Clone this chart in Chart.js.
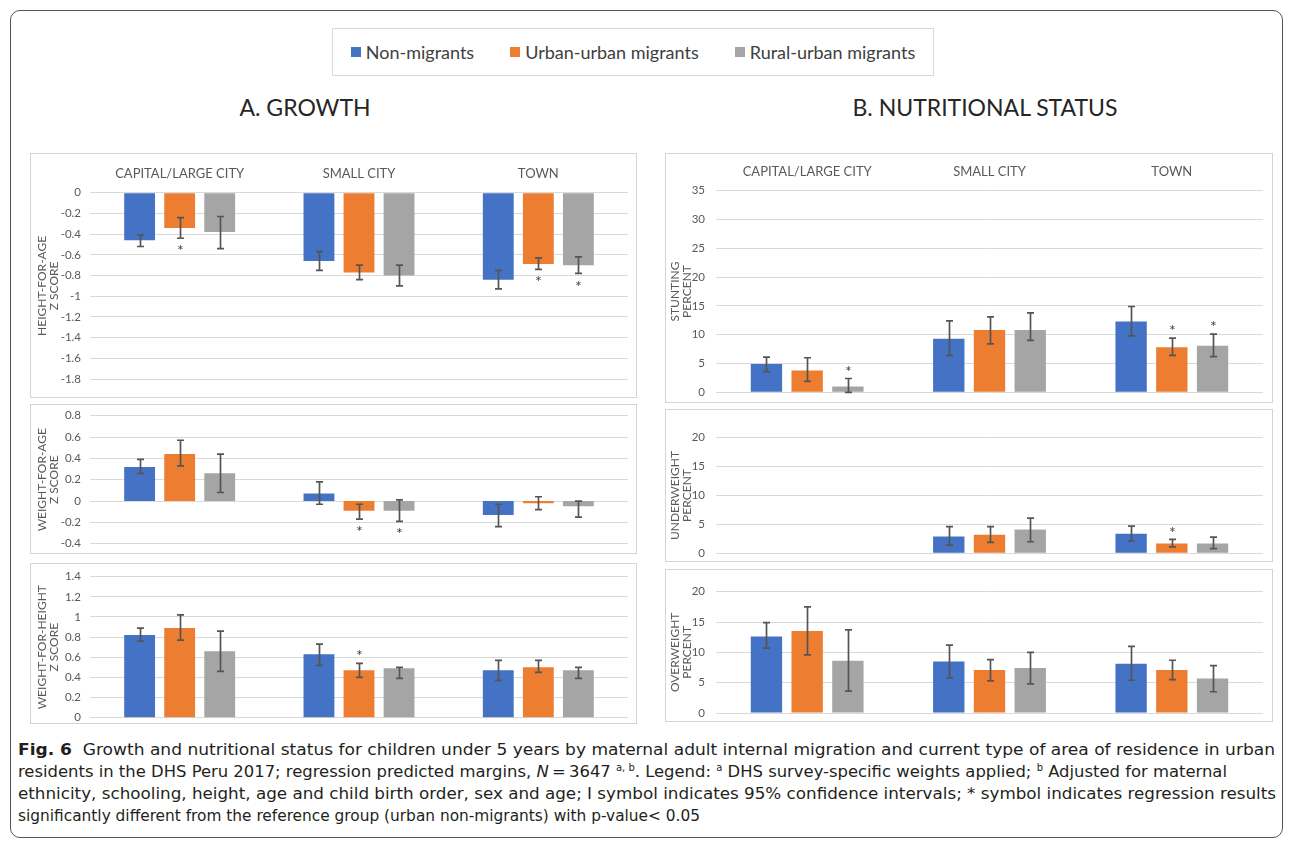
<!DOCTYPE html>
<html>
<head>
<meta charset="utf-8">
<script src="https://cdn.jsdelivr.net/npm/chart.js@4.4.1/dist/chart.umd.min.js"></script>
<style>
  html, body { margin: 0; padding: 0; background: #fff; }
  body { width: 1292px; height: 845px; position: relative; overflow: hidden; font-family: Lato, "Open Sans", sans-serif; color: #222; }
  #frame { position: absolute; left: 10px; top: 10px; width: 1273px; height: 828px; border: 1px solid #555; border-radius: 10px; box-sizing: border-box; }
  .box { position: absolute; border: 1px solid #d4d4d4; box-sizing: border-box; }
  canvas.panel { position: absolute; }
  #legend { position: absolute; left: 332px; top: 28px; width: 602px; height: 48px; border: 1px solid #d9d9d9; box-sizing: border-box; display: flex; align-items: center; justify-content: center; gap: 36px; font-size: 18px; color: #404040; }
  #legend .item { display: flex; align-items: center; }
  #legend .sw { width: 10px; height: 10px; margin-right: 5px; }
  .head { position: absolute; top: 93px; font-size: 23px; color: #262626; white-space: nowrap; transform: translateX(-50%); }
  #caption { position: absolute; left: 18px; top: 739px; font-family: "Liberation Sans Narrow", "DejaVu Sans Condensed", "Roboto Condensed", sans-serif; font-size: 16.5px; color: #231f20; }
  #caption .ln { white-space: nowrap; height: 22px; line-height: 22px; transform-origin: 0 50%; }
  #caption sup { font-size: 10px; vertical-align: 6px; line-height: 0; }
</style>
</head>
<body>
<div id="frame"></div>
<div id="legend"></div>
<div class="head" style="left:305px">A. GROWTH</div>
<div class="head" style="left:985px">B. NUTRITIONAL STATUS</div>
<div id="caption">
  <div class="ln" data-w="1257"><b>Fig. 6</b>&nbsp; Growth and nutritional status for children under 5 years by maternal adult internal migration and current type of area of residence in urban</div>
  <div class="ln" data-w="1209">residents in the DHS Peru 2017; regression predicted margins, <i>N</i>&#8201;=&#8201;3647 <sup>a, b</sup>. Legend: <sup>a</sup> DHS survey-specific weights applied; <sup>b</sup> Adjusted for maternal</div>
  <div class="ln" data-w="1258">ethnicity, schooling, height, age and child birth order, sex and age; I symbol indicates 95% confidence intervals; * symbol indicates regression results</div>
  <div class="ln" data-w="682">significantly different from the reference group (urban non-migrants) with p-value&lt; 0.05</div>
</div>
<script>
// Categories and series
const categories = ['CAPITAL/LARGE CITY', 'SMALL CITY', 'TOWN'];
const seriesNames = ['Non-migrants', 'Urban-urban migrants', 'Rural-urban migrants'];
const seriesColors = ['#4472C4', '#ED7D31', '#A5A5A5'];

// Each array below is [series][category]: predicted margin, 95% CI lower, 95% CI upper, significance flag
// A. Height-for-age z score
const hfaMean = [[-0.46, -0.66, -0.84], [-0.34, -0.77, -0.69], [-0.38, -0.80, -0.70]];
const hfaLow  = [[-0.52, -0.75, -0.93], [-0.44, -0.84, -0.74], [-0.54, -0.90, -0.78]];
const hfaHigh = [[-0.41, -0.57, -0.75], [-0.24, -0.70, -0.63], [-0.23, -0.70, -0.62]];
const hfaSig  = [[0, 0, 0], [1, 0, 1], [0, 0, 1]];

// A. Weight-for-age z score
const wfaMean = [[0.32, 0.07, -0.13], [0.44, -0.09, -0.02], [0.26, -0.09, -0.05]];
const wfaLow  = [[0.26, -0.03, -0.24], [0.33, -0.17, -0.08], [0.08, -0.19, -0.15]];
const wfaHigh = [[0.39, 0.18, -0.03], [0.57, -0.03, 0.04], [0.44, 0.01, 0.00]];
const wfaSig  = [[0, 0, 0], [0, 1, 0], [0, 1, 0]];

// A. Weight-for-height z score
const wfhMean = [[0.82, 0.63, 0.47], [0.89, 0.47, 0.50], [0.66, 0.49, 0.47]];
const wfhLow  = [[0.76, 0.52, 0.37], [0.77, 0.40, 0.45], [0.46, 0.39, 0.39]];
const wfhHigh = [[0.89, 0.73, 0.57], [1.02, 0.54, 0.57], [0.86, 0.50, 0.50]];
const wfhSig  = [[0, 0, 0], [0, 1, 0], [0, 0, 0]];

// B. Stunting percent
const stuMean = [[4.9, 9.3, 12.3], [3.8, 10.8, 7.8], [1.0, 10.8, 8.1]];
const stuLow  = [[3.6, 6.4, 9.8], [1.9, 8.4, 6.4], [0.0, 9.0, 6.2]];
const stuHigh = [[6.1, 12.4, 14.9], [6.0, 13.1, 9.4], [2.4, 13.8, 10.1]];
const stuSig  = [[0, 0, 0], [0, 0, 1], [1, 0, 1]];

// B. Underweight percent (no estimate for capital/large city)
const undMean = [[null, 2.9, 3.4], [null, 3.2, 1.7], [null, 4.1, 1.7]];
const undLow  = [[null, 1.4, 2.1], [null, 1.9, 1.1], [null, 2.0, 0.8]];
const undHigh = [[null, 4.6, 4.7], [null, 4.6, 2.4], [null, 6.1, 2.8]];
const undSig  = [[0, 0, 0], [0, 0, 1], [0, 0, 0]];

// B. Overweight percent
const ovwMean = [[12.6, 8.5, 8.1], [13.5, 7.1, 7.1], [8.6, 7.4, 5.7]];
const ovwLow  = [[10.7, 5.8, 5.4], [9.6, 5.3, 5.5], [3.6, 4.8, 3.5]];
const ovwHigh = [[14.9, 11.2, 11.0], [17.5, 8.8, 8.7], [13.7, 10.0, 7.8]];
const ovwSig  = [[0, 0, 0], [0, 0, 0], [0, 0, 0]];

// Axis titles
const hfaTitle = ['HEIGHT-FOR-AGE', 'Z SCORE'];
const wfaTitle = ['WEIGHT-FOR-AGE', 'Z SCORE'];
const wfhTitle = ['WEIGHT-FOR-HEIGHT', 'Z SCORE'];
const stuTitle = ['STUNTING', 'PERCENT'];
const undTitle = ['UNDERWEIGHT', 'PERCENT'];
const ovwTitle = ['OVERWEIGHT', 'PERCENT'];

// Shared legend
const legendEl = document.getElementById('legend');
seriesNames.forEach((n, i) => {
  const it = document.createElement('div');
  it.className = 'item';
  it.innerHTML = '<span class="sw" style="background:' + seriesColors[i] + '"></span><span>' + n + '</span>';
  legendEl.appendChild(it);
});

// Confidence-interval whiskers and significance stars
const errorBars = {
  id: 'errorBars',
  afterDatasetsDraw(chart) {
    const ctx = chart.ctx;
    const ys = chart.scales.y;
    const side = chart.options.plugins.errorBars.starSide;
    ctx.save();
    chart.data.datasets.forEach((ds, di) => {
      const meta = chart.getDatasetMeta(di);
      meta.data.forEach((bar, i) => {
        const lo = ds.ciLow[i], hi = ds.ciHigh[i];
        if (lo == null || hi == null) return;
        const x = Math.round(bar.x) + 0.5;
        const y1 = ys.getPixelForValue(lo);
        const y2 = ys.getPixelForValue(hi);
        ctx.strokeStyle = '#555555';
        ctx.lineWidth = 1.7;
        ctx.beginPath();
        ctx.moveTo(x, y1); ctx.lineTo(x, y2);
        ctx.moveTo(x - 3.5, y1); ctx.lineTo(x + 3.5, y1);
        ctx.moveTo(x - 3.5, y2); ctx.lineTo(x + 3.5, y2);
        ctx.stroke();
        if (ds.sig[i]) {
          ctx.fillStyle = '#404040';
          ctx.font = '16px Lato, sans-serif';
          ctx.textAlign = 'center';
          ctx.textBaseline = 'middle';
          const yy = side === 'below' ? Math.max(y1, y2) + 13 : Math.min(y1, y2) - 7;
          ctx.fillText('*', x, yy);
        }
      });
    });
    ctx.restore();
  }
};

const tickFmt = v => String(parseFloat(Number(v).toFixed(1)));

function makePanel(p) {
  const [bl, bt, br, bb] = p.box;
  const [pl, pt, pr, pb] = p.plot;
  const W = br - bl, H = bb - bt;

  const frame = document.createElement('div');
  frame.className = 'box';
  frame.style.cssText = 'left:' + bl + 'px;top:' + bt + 'px;width:' + W + 'px;height:' + H + 'px;';
  document.body.appendChild(frame);

  const cv = document.createElement('canvas');
  cv.className = 'panel';
  cv.width = W; cv.height = H;
  cv.style.cssText = 'left:' + bl + 'px;top:' + bt + 'px;width:' + W + 'px;height:' + H + 'px;';
  document.body.appendChild(cv);

  const datasets = seriesNames.map((n, i) => ({
    label: n,
    data: p.mean[i],
    ciLow: p.low[i],
    ciHigh: p.high[i],
    sig: p.sig[i],
    backgroundColor: seriesColors[i],
    borderWidth: 0,
    categoryPercentage: 0.67,
    barPercentage: 0.77
  }));

  new Chart(cv, {
    type: 'bar',
    data: { labels: categories, datasets },
    options: {
      responsive: false,
      animation: false,
      events: [],
      layout: { padding: { left: 0, right: br - pr, top: p.showCats ? 0 : pt - bt, bottom: bb - pb } },
      plugins: { legend: { display: false }, tooltip: { enabled: false }, errorBars: { starSide: p.starSide } },
      scales: {
        x: {
          display: !!p.showCats,
          position: 'top',
          grid: { display: false, drawTicks: false },
          border: { display: false },
          ticks: { color: '#595959', padding: 11, font: { family: 'Lato', size: 13 } },
          afterFit: s => { if (p.showCats) s.height = pt - bt; }
        },
        y: {
          min: p.min, max: p.max,
          grid: { color: '#d9d9d9', drawTicks: false, lineWidth: 1 },
          border: { display: false },
          ticks: { stepSize: p.step, color: '#595959', padding: p.tickPad, font: { family: 'Lato', size: 11.5 }, callback: tickFmt },
          title: { display: true, text: p.title, color: '#595959', font: { family: 'Lato', size: 12, lineHeight: 1.0 }, padding: { top: p.titlePad, bottom: 0 } },
          afterFit: s => { s.width = pl - bl; s.paddingTop = 0; s.paddingBottom = 0; }
        }
      }
    },
    plugins: [errorBars]
  });
}

makePanel({ box: [30, 153, 637, 398], plot: [90, 192.7, 628, 379], min: -1.8, max: 0, step: 0.2, title: hfaTitle,
  mean: hfaMean, low: hfaLow, high: hfaHigh, sig: hfaSig, starSide: 'below', showCats: true, tickPad: 9, titlePad: 6 });
makePanel({ box: [30, 404, 637, 554], plot: [90, 415.7, 628, 543.7], min: -0.4, max: 0.8, step: 0.2, title: wfaTitle,
  mean: wfaMean, low: wfaLow, high: wfaHigh, sig: wfaSig, starSide: 'below', tickPad: 9, titlePad: 6 });
makePanel({ box: [30, 563, 637, 724], plot: [90, 576.7, 628, 717.7], min: 0, max: 1.4, step: 0.2, title: wfhTitle,
  mean: wfhMean, low: wfhLow, high: wfhHigh, sig: wfhSig, starSide: 'above', tickPad: 9, titlePad: 6 });
makePanel({ box: [665, 153, 1273, 403], plot: [716, 190.7, 1263, 392.3], min: 0, max: 35, step: 5, title: stuTitle,
  mean: stuMean, low: stuLow, high: stuHigh, sig: stuSig, starSide: 'above', showCats: true, tickPad: 11, titlePad: 4 });
makePanel({ box: [665, 409, 1273, 562], plot: [716, 437.7, 1263, 553.3], min: 0, max: 20, step: 5, title: undTitle,
  mean: undMean, low: undLow, high: undHigh, sig: undSig, starSide: 'above', tickPad: 11, titlePad: 4 });
makePanel({ box: [665, 569, 1273, 722], plot: [716, 591.7, 1263, 713], min: 0, max: 20, step: 5, title: ovwTitle,
  mean: ovwMean, low: ovwLow, high: ovwHigh, sig: ovwSig, starSide: 'above', tickPad: 11, titlePad: 4 });

// Fit each caption line to its column width
document.querySelectorAll('#caption .ln').forEach(el => {
  const target = +el.dataset.w;
  el.style.display = 'inline-block';
  const w = el.getBoundingClientRect().width;
  el.style.display = 'block';
  if (w > 0) el.style.transform = 'scaleX(' + (target / w) + ')';
});
</script>
</body>
</html>
